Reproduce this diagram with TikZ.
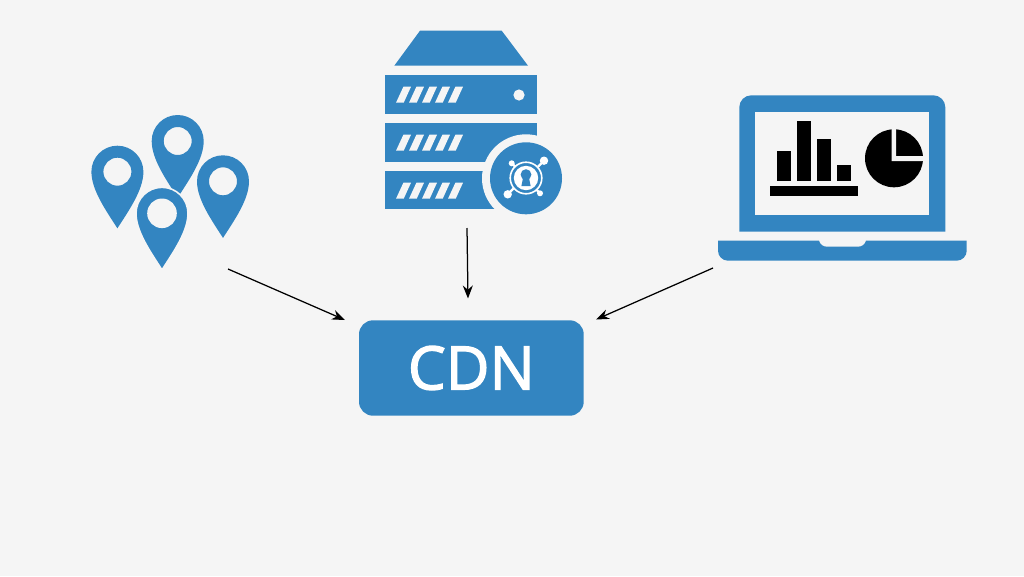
\documentclass[tikz,border=0pt]{standalone}
\usepackage{fontspec}
\setmainfont{Open Sans}
\newfontfamily\cdnfont[FakeBold=2.2]{Open Sans}
\usetikzlibrary{arrows.meta}
\definecolor{pagebg}{HTML}{F5F5F5}
\definecolor{iconblue}{HTML}{3385C1}
\tikzset{
  icon/.style={fill=iconblue,draw=none},
  ink/.style={fill=black,draw=none},
  cutout/.style={fill=pagebg,draw=none},
  flow/.style={draw=black,line width=1.25pt,-{Stealth[length=13pt,width=10pt]}},
  cdnbox/.style={fill=iconblue,draw=none,rounded corners=14pt,minimum width=224.7pt,minimum height=95.4pt,inner sep=0pt,text=white,font=\cdnfont\fontsize{60}{60}\selectfont},
  mappin/.pic={
    \fill[icon,even odd rule] (-26,0) arc (180:360:26)
      .. controls (26,18) and (12,38) .. (0,56.6)
      .. controls (-12,38) and (-26,18) .. (-26,0) -- cycle
      (14,0) arc (0:360:14) -- cycle;
  },
  halopin/.pic={
    \fill[icon,draw=pagebg,line width=1.6pt,even odd rule] (-26,0) arc (180:360:26)
      .. controls (26,18) and (12,38) .. (0,56.6)
      .. controls (-12,38) and (-26,18) .. (-26,0) -- cycle
      (14,0) arc (0:360:14) -- cycle;
  },
  serverslits/.pic={
    \foreach \i in {0,1,2,3,4}
      \fill[cutout] ({\i*13},16) -- ({\i*13+7.7},16) -- ({\i*13+15},0) -- ({\i*13+7.4},0) -- cycle;
  }
}
\begin{document}
\begin{tikzpicture}[x=1pt,y=-1pt]
\fill[pagebg] (0,0) rectangle (1024,576);
\useasboundingbox (0,0) rectangle (1024,576);

% map pins
\pic at (117.4,171.7) {mappin};
\pic at (177.7,141) {mappin};
\pic at (223,181.3) {mappin};
\pic at (162,213.3) {halopin};

% server stack
\fill[icon] (420,30.7) -- (501.7,30.7) -- (528,65.7) -- (394.3,65.7) -- cycle;
\fill[icon] (385.3,75.3) rectangle (536.7,113.7);
\fill[icon] (385.3,123.3) rectangle (536.7,161.7);
\fill[icon] (385.3,171.3) rectangle (536.7,209.3);
\pic at (396,86.7) {serverslits};
\pic at (396,134.7) {serverslits};
\pic at (396,182.7) {serverslits};
\fill[cutout] (519,95) circle (5.6);

% key badge
\fill[cutout] (526,178.3) circle (44);
\fill[icon] (526,178.3) circle (36);
\draw[white,line width=2.3pt] (507.7,194.3) -- (514,188) (544,160.7) -- (538,166.7)
  (511.7,163.3) -- (515.5,167) (540,193.3) -- (536.3,189.5);
\fill[white] (544,160.7) circle (4.2) (507.7,194.3) circle (4.2)
  (511.7,163.3) circle (3) (540,193.3) circle (3);
\draw[white,line width=1.6pt] (526,178) circle (15.8);
\fill[white] (526,178) circle (12.2);
\fill[icon] (526,174.6) circle (5.4);
\fill[icon] (523.6,175) -- (528.4,175) -- (530.6,186) -- (521.4,186) -- cycle;

% laptop
\fill[icon] (739.3,231.7) [rounded corners=12pt] -- (739.3,95.3) -- (945.3,95.3) [sharp corners] -- (945.3,231.7) -- cycle;
\fill[cutout] (755.3,111.7) rectangle (929,215.3);
\fill[icon] (718,240.7) -- (819,240.7) .. controls (820,244.5) and (823,246.7) .. (827,246.7)
  -- (858,246.7) .. controls (862,246.7) and (865,244.5) .. (866,240.7)
  -- (966.7,240.7) [rounded corners=10pt] -- (966.7,260.7) -- (718,260.7) [sharp corners] -- cycle;

% bar chart
\fill[ink] (776.7,151) rectangle (791.3,181);
\fill[ink] (796.7,120.7) rectangle (811.3,181);
\fill[ink] (816.7,139) rectangle (831.3,181);
\fill[ink] (836.7,165.3) rectangle (851.3,181);
\fill[ink] (770,186.3) rectangle (857.7,196.3);

% pie chart
\fill[ink] (894,158.3) circle (29);
\fill[cutout] (891.7,125) -- (896,125) -- (896,156) -- (926,156) -- (926,161) -- (891.7,161) -- cycle;

% CDN block and the flows into it
\node[cdnbox] (cdn) at (471.35,368) {\raisebox{-1.5pt}{CDN}};
\coordinate (pinsOut) at (228,269);
\coordinate (pinsIn) at (345,320);
\coordinate (serverOut) at (467,228);
\coordinate (serverIn) at (468,298.5);
\coordinate (laptopOut) at (713,268);
\coordinate (laptopIn) at (596,319.5);
\draw[flow] (pinsOut) -- (pinsIn);
\draw[flow] (serverOut) -- (serverIn);
\draw[flow] (laptopOut) -- (laptopIn);
\end{tikzpicture}
\end{document}
